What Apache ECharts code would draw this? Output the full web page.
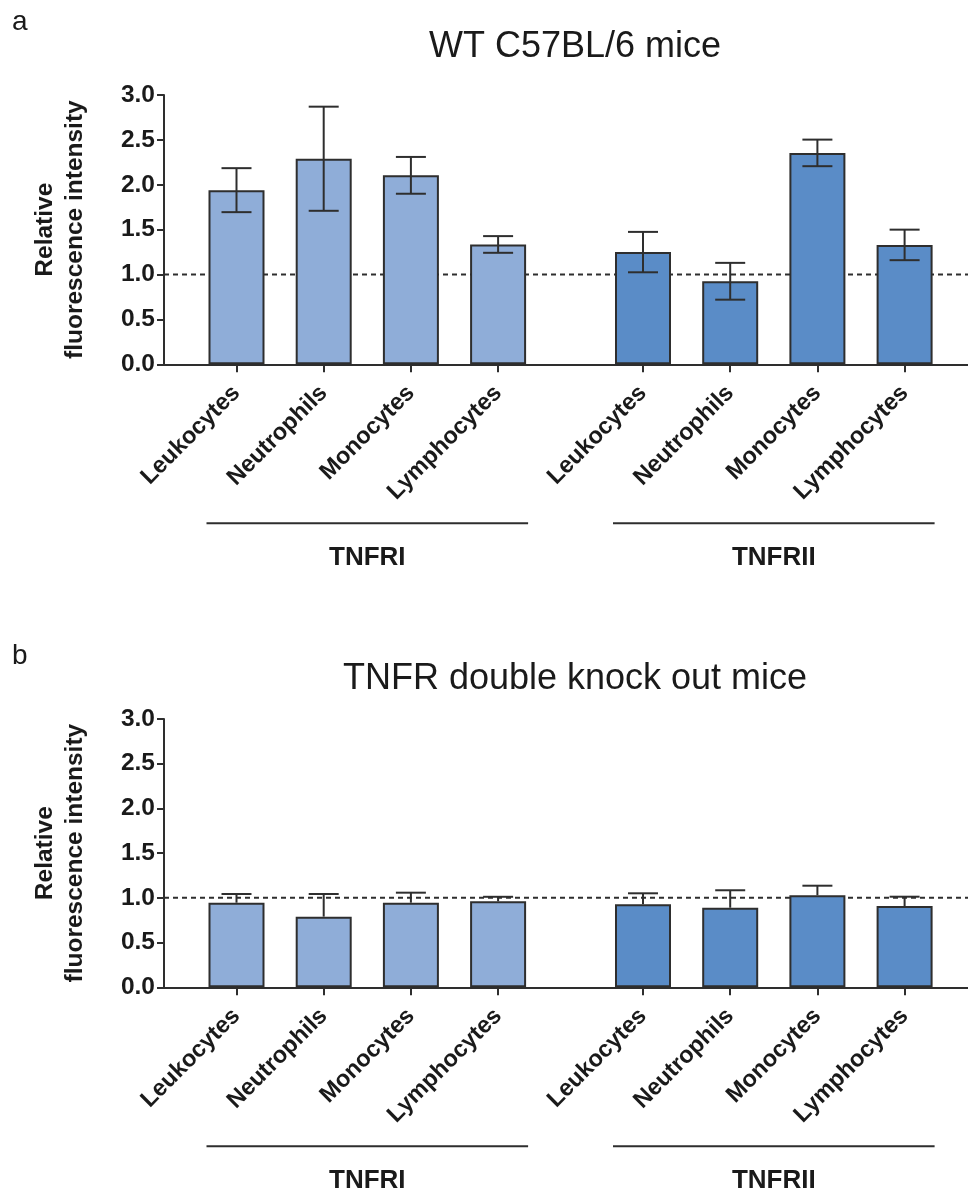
<!DOCTYPE html>
<html>
<head>
<meta charset="utf-8">
<script src="https://cdn.jsdelivr.net/npm/echarts@6/dist/echarts.min.js"></script>
<style>
  html, body { margin: 0; padding: 0; background: #fff; }
  #chart { width: 968px; height: 1189px; }
</style>
</head>
<body>
<div id="chart"></div>
<script>
// Cell populations and receptor groups
const cellTypes = ['Leukocytes', 'Neutrophils', 'Monocytes', 'Lymphocytes'];
const receptorGroups = ['TNFRI', 'TNFRII'];

// Panel a: WT C57BL/6 mice (mean ± SD)
const wtTnfr1Mean = [1.94, 2.29, 2.105, 1.335];
const wtTnfr1Sd   = [0.245, 0.58, 0.205, 0.093];
const wtTnfr2Mean = [1.25, 0.925, 2.355, 1.33];
const wtTnfr2Sd   = [0.225, 0.205, 0.148, 0.17];

// Panel b: TNFR double knock out mice (mean + SD)
const dkoTnfr1Mean = [0.946, 0.79, 0.946, 0.962];
const dkoTnfr1Sd   = [0.097, 0.253, 0.112, 0.05];
const dkoTnfr2Mean = [0.928, 0.89, 1.029, 0.909];
const dkoTnfr2Sd   = [0.123, 0.195, 0.107, 0.104];

// Axis scale and reference level
const yMin = 0, yMax = 3, yStep = 0.5;
const referenceLevel = 1.0;

const FONT = "'Liberation Sans', Arial, Helvetica, sans-serif";
const INK = '#1a1a1a';
const LINE = '#2e2e2e';
const COLOR_R1 = '#8fadd8';
const COLOR_R2 = '#5a8cc7';
const BAR_W = 56;

const panels = [
  { letter: 'a', title: 'WT C57BL/6 mice', top: 95, height: 269.3, letterY: 22, titleY: 47,
    groups: [{ mean: wtTnfr1Mean, sd: wtTnfr1Sd, color: COLOR_R1 },
             { mean: wtTnfr2Mean, sd: wtTnfr2Sd, color: COLOR_R2 }],
    twoSided: true },
  { letter: 'b', title: 'TNFR double knock out mice', top: 719, height: 268.3, letterY: 656, titleY: 679,
    groups: [{ mean: dkoTnfr1Mean, sd: dkoTnfr1Sd, color: COLOR_R1 },
             { mean: dkoTnfr2Mean, sd: dkoTnfr2Sd, color: COLOR_R2 }],
    twoSided: false }
];

// Horizontal layout of the two bar groups
const slotW = 87.2;
const groupLeft = [192.9, 599.4];

const grid = [], xAxis = [], yAxis = [], series = [];

function errorBarRenderer(cap) {
  return function (params, api) {
    const xi = api.value(0);
    const lo = api.coord([xi, api.value(1)]);
    const hi = api.coord([xi, api.value(2)]);
    const showLow = api.value(3) === 1;
    const style = { stroke: LINE, lineWidth: 2, fill: null };
    const children = [
      { type: 'line', shape: { x1: lo[0], y1: lo[1], x2: hi[0], y2: hi[1] }, style },
      { type: 'line', shape: { x1: hi[0] - cap / 2, y1: hi[1], x2: hi[0] + cap / 2, y2: hi[1] }, style }
    ];
    if (showLow) {
      children.push({ type: 'line', shape: { x1: lo[0] - cap / 2, y1: lo[1], x2: lo[0] + cap / 2, y2: lo[1] }, style });
    }
    return { type: 'group', children };
  };
}

panels.forEach((p, pi) => {
  const base = pi * 3;
  // frame grid: y axis, baseline and the dotted reference line
  grid.push({ left: 164, right: 0, top: p.top, height: p.height });
  xAxis.push({
    gridIndex: base, type: 'value', min: 0, max: 1,
    axisLine: { show: true, onZero: true, lineStyle: { color: LINE, width: 2 } },
    axisTick: { show: false }, axisLabel: { show: false }, splitLine: { show: false }
  });
  yAxis.push({
    gridIndex: base, type: 'value', min: yMin, max: yMax, interval: yStep,
    name: 'Relative\nfluorescence intensity', nameLocation: 'middle', nameGap: 74,
    nameTextStyle: { fontFamily: FONT, fontWeight: 'bold', fontSize: 24.5, lineHeight: 30, color: INK, align: 'center' },
    axisLine: { show: true, lineStyle: { color: LINE, width: 2 } },
    axisTick: { show: true, length: 7, lineStyle: { color: LINE, width: 2 } },
    axisLabel: { fontFamily: FONT, fontWeight: 'bold', fontSize: 24.5, color: INK, margin: 9,
                 formatter: v => v.toFixed(1) },
    splitLine: { show: false }
  });
  series.push({
    type: 'line', xAxisIndex: base, yAxisIndex: base, silent: true, z: 1,
    symbol: 'none', animation: false,
    lineStyle: { color: LINE, width: 2, type: [5, 4] },
    data: [[0, referenceLevel], [1, referenceLevel]]
  });

  p.groups.forEach((g, gi) => {
    const idx = base + 1 + gi;
    grid.push({ left: groupLeft[gi], width: slotW * cellTypes.length, top: p.top, height: p.height });
    xAxis.push({
      gridIndex: idx, type: 'category', data: cellTypes,
      axisLine: { show: false },
      axisTick: { show: true, alignWithLabel: true, length: 8, lineStyle: { color: LINE, width: 2 } },
      axisLabel: { rotate: 45, interval: 0, margin: 25, padding: [28, 0, 0, 0],
                   fontFamily: FONT, fontWeight: 'bold', fontSize: 23.5, color: INK }
    });
    yAxis.push({ gridIndex: idx, type: 'value', min: yMin, max: yMax, show: false });
    series.push({
      type: 'bar', xAxisIndex: idx, yAxisIndex: idx, z: 2, barWidth: BAR_W, animation: false,
      itemStyle: { color: g.color, borderColor: LINE, borderWidth: 2 },
      data: g.mean
    });
    series.push({
      type: 'custom', xAxisIndex: idx, yAxisIndex: idx, z: 3, animation: false,
      renderItem: errorBarRenderer(30),
      encode: { x: 0, y: [1, 2] },
      data: cellTypes.map((c, i) => [
        c,
        p.twoSided ? g.mean[i] - g.sd[i] : g.mean[i],
        g.mean[i] + g.sd[i],
        p.twoSided ? 1 : 0
      ])
    });
  });
});

const chart = echarts.init(document.getElementById('chart'), null, { renderer: 'canvas' });
chart.setOption({
  animation: false,
  backgroundColor: '#ffffff',
  grid, xAxis, yAxis, series
});

// Panel letters, titles and receptor-group brackets
const graphic = [];
panels.forEach((p, pi) => {
  const base = pi * 3;
  graphic.push({ type: 'text', x: 12, y: p.letterY,
    style: { text: p.letter, font: `28px ${FONT}`, fill: INK, align: 'left', verticalAlign: 'middle' } });
  graphic.push({ type: 'text', x: 575, y: p.titleY,
    style: { text: p.title, font: `36px ${FONT}`, fill: INK, align: 'center', verticalAlign: 'middle' } });
  const baseY = chart.convertToPixel({ yAxisIndex: base }, 0);
  receptorGroups.forEach((name, gi) => {
    const idx = base + 1 + gi;
    const x0 = chart.convertToPixel({ xAxisIndex: idx }, cellTypes[0]) - BAR_W / 2 - 2;
    const x1 = chart.convertToPixel({ xAxisIndex: idx }, cellTypes[cellTypes.length - 1]) + BAR_W / 2 + 2;
    graphic.push({ type: 'line', shape: { x1: x0, y1: baseY + 159, x2: x1, y2: baseY + 159 },
      style: { stroke: LINE, lineWidth: 2 } });
    graphic.push({ type: 'text', x: (x0 + x1) / 2, y: baseY + 194,
      style: { text: name, font: `bold 26px ${FONT}`, fill: INK, align: 'center', verticalAlign: 'middle' } });
  });
});
chart.setOption({ graphic });
</script>
</body>
</html>
